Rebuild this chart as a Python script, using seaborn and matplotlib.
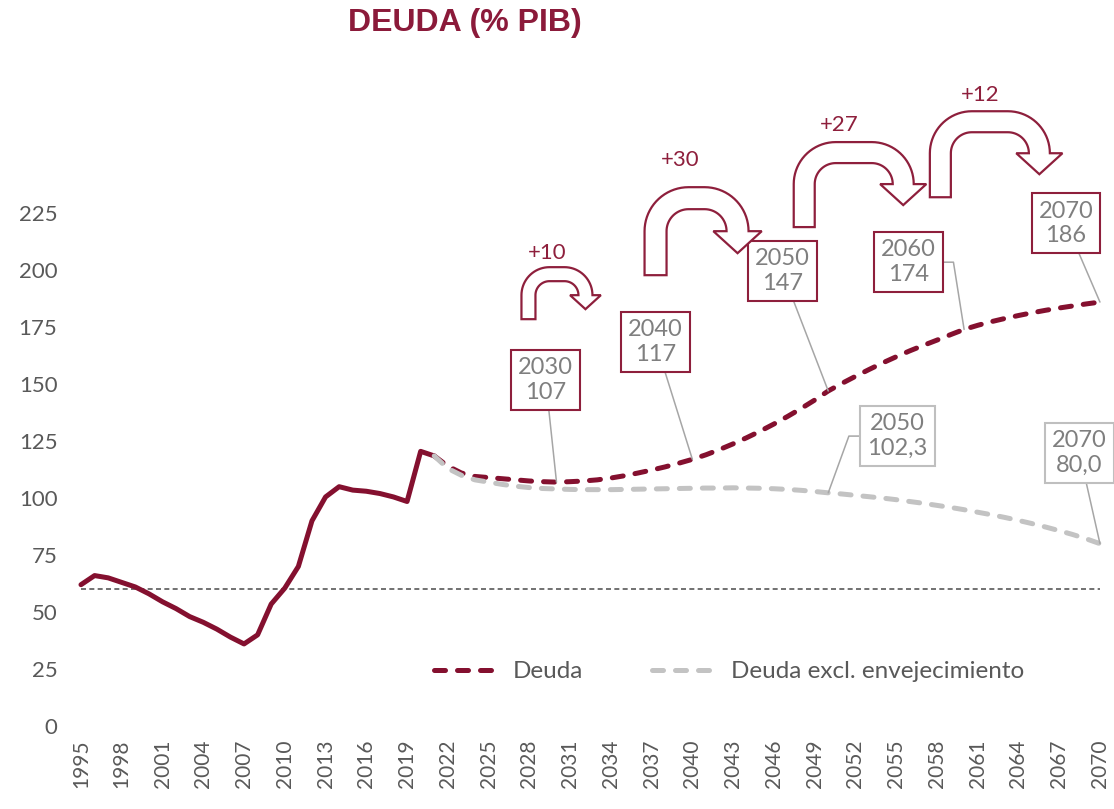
import numpy as np
import pandas as pd
import matplotlib
matplotlib.use('Agg')
import matplotlib.pyplot as plt
import matplotlib.transforms as mtransforms
from matplotlib.patches import Polygon
import seaborn as sns

# Deuda pública (% PIB), serie histórica
hist_years = list(range(1995, 2022))
hist_debt = [62, 66, 65, 63, 61, 58, 54.5, 51.5, 48, 45.5, 42.5, 39, 36, 40,
             53.5, 60.5, 70, 90, 100.5, 105, 103.5, 103, 102, 100.5, 98.5,
             120.5, 118.5]

# Proyecciones 2021-2070
proj_years = list(range(2021, 2071))
proj_debt = [118.5, 114, 111, 109.5, 109, 108.5, 108, 107.5, 107.2, 107,
             107.2, 107.5, 108, 108.8, 109.8, 111, 112.3, 113.7, 115.3, 117,
             119, 121.3, 123.8, 126.5, 129.4, 132.5, 135.8, 139.3, 143, 147,
             150.3, 153.4, 156.4, 159.3, 162, 164.6, 167, 169.3, 171.7, 174,
             175.8, 177.4, 178.8, 180.1, 181.3, 182.4, 183.4, 184.3, 185.2, 186]
proj_excl = [118.5, 113, 110, 108, 107, 106, 105.2, 104.6, 104.2, 104,
             103.8, 103.7, 103.7, 103.7, 103.8, 103.9, 104, 104.1, 104.2, 104.3,
             104.4, 104.4, 104.5, 104.4, 104.3, 104.1, 103.8, 103.4, 102.9, 102.3,
             101.8, 101.2, 100.6, 100, 99.3, 98.5, 97.7, 96.8, 95.9, 94.9,
             93.8, 92.7, 91.5, 90.2, 88.8, 87.3, 85.7, 84, 82.1, 80]

xtick_years = [1995, 1998, 2001, 2004, 2007, 2010, 2013, 2016, 2019, 2022,
               2025, 2028, 2031, 2034, 2037, 2040, 2043, 2046, 2049, 2052,
               2055, 2058, 2061, 2064, 2067, 2070]
yticks = [0, 25, 50, 75, 100, 125, 150, 175, 200, 225]
ref_level = 60

# cajas de etiquetas: (texto, año, valor del punto, x caja, y caja)
labels_red = [('2030\n107', 2030, 107, 2029.2, 151.8),
              ('2040\n117', 2040, 117, 2037.3, 168.4),
              ('2050\n147', 2050, 147, 2046.6, 199.6),
              ('2060\n174', 2060, 174, 2055.9, 203.5),
              ('2070\n186', 2070, 186, 2067.5, 220.6)]
labels_gray = [('2050\n102,3', 2050, 102.3, 2055.1, 127.2),
               ('2070\n80,0', 2070, 80.0, 2068.5, 119.7)]

# flechas de incremento: (texto, año base, valor base, ancho px, alto px, grosor px, x texto, y texto)
jumps = [('+10', 2027.42, 178.5, 71, 52, 14, 2029.3, 207.5),
         ('+30', 2036.48, 197.8, 104, 88, 22, 2039.1, 248.2),
         ('+27', 2047.46, 218.9, 120, 85, 21, 2050.8, 263.6),
         ('+12', 2057.48, 232.0, 120, 86, 21, 2061.2, 276.8)]

red = '#84102F'
box_red = '#8E1F3C'
gray_line = '#C3C3C3'
text_gray = '#7F7F7F'
tick_gray = '#595959'

sns.set_theme(style='white')
plt.rcParams['font.family'] = ['Lato', 'DejaVu Sans']

fig = plt.figure(figsize=(11.14, 8.09), dpi=100)
ax = fig.add_axes([0.0727, 0.1026, 0.9147, 0.817])

hist = pd.DataFrame({'year': hist_years, 'debt': hist_debt})
proj = pd.DataFrame({'year': proj_years, 'debt': proj_debt, 'excl': proj_excl})

ax.axhline(ref_level, color=tick_gray, lw=1.2, ls=(0, (3, 2)), zorder=1)

sns.lineplot(data=hist, x='year', y='debt', color=red, lw=3.6, ax=ax)
ax.lines[-1].set_clip_on(False)

sns.lineplot(data=proj, x='year', y='debt', color=red, lw=3.6, ax=ax)
l_red = ax.lines[-1]
l_red.set_dashes((2.2, 2.4))
l_red.set_dash_capstyle('round')
l_red.set_clip_on(False)

sns.lineplot(data=proj, x='year', y='excl', color=gray_line, lw=3.6, ax=ax)
l_gray = ax.lines[-1]
l_gray.set_dashes((2.2, 2.4))
l_gray.set_dash_capstyle('round')
l_gray.set_clip_on(False)


def uturn(ax, x, y, w, h, t, color):
    # flecha en U dibujada en pixeles, anclada en (x, y) de datos
    r = 2 * t
    hw = 1.1 * t
    xc = w - t / 2
    yc = h - r
    ri = r - t
    pts = [(0, 0)]
    a = np.linspace(np.pi, np.pi / 2, 20)
    pts += list(zip(r + r * np.cos(a), yc + r * np.sin(a)))
    a = np.linspace(np.pi / 2, 0, 20)
    pts += list(zip(w - r + r * np.cos(a), yc + r * np.sin(a)))
    pts += [(xc + hw, yc), (xc, yc - t), (xc - hw, yc)]
    a = np.linspace(0, np.pi / 2, 20)
    pts += list(zip(w - r + ri * np.cos(a), yc + ri * np.sin(a)))
    a = np.linspace(np.pi / 2, np.pi, 20)
    pts += list(zip(r + ri * np.cos(a), yc + ri * np.sin(a)))
    pts += [(t, 0)]
    trans = mtransforms.ScaledTranslation(x, y, ax.transData)
    ax.add_patch(Polygon(pts, closed=True, fc='white', ec=color, lw=1.6,
                         transform=trans, clip_on=False, zorder=5))


for txt, x0, y0, w, h, t, tx, ty in jumps:
    uturn(ax, x0, y0, w, h, t, box_red)
    ax.text(tx, ty, txt, ha='center', va='center', fontsize=16,
            color=box_red, clip_on=False)

conn = {2060: 'angle,angleA=0,angleB=99,rad=0'}
for txt, xp, yp, bx, by in labels_red:
    ax.annotate(txt, xy=(xp, yp), xytext=(bx, by), ha='center', va='center',
                fontsize=17, color=text_gray, annotation_clip=False,
                bbox=dict(boxstyle='square,pad=0.3', fc='white', ec=box_red, lw=1.5),
                arrowprops=dict(arrowstyle='-', color='#A6A6A6', lw=1.1,
                                shrinkA=0, shrinkB=0,
                                connectionstyle=conn.get(xp, 'arc3')),
                zorder=4)

conn_g = {2050: 'angle,angleA=0,angleB=70,rad=0'}
for txt, xp, yp, bx, by in labels_gray:
    ax.annotate(txt, xy=(xp, yp), xytext=(bx, by), ha='center', va='center',
                fontsize=17, color=text_gray, annotation_clip=False,
                bbox=dict(boxstyle='square,pad=0.3', fc='white', ec='#BFBFBF', lw=1.5),
                arrowprops=dict(arrowstyle='-', color='#A6A6A6', lw=1.1,
                                shrinkA=0, shrinkB=0,
                                connectionstyle=conn_g.get(xp, 'arc3')),
                zorder=4)

ax.set_xlim(1995, 2070)
ax.set_ylim(0, 290)
ax.set_xticks(xtick_years)
ax.set_xticklabels([str(y) for y in xtick_years], rotation=90)
ax.set_yticks(yticks)
ax.tick_params(axis='y', length=0, pad=17, labelsize=16, labelcolor=tick_gray)
ax.tick_params(axis='x', length=0, pad=10, labelsize=15, labelcolor=tick_gray)
ax.set_xlabel('')
ax.set_ylabel('')
sns.despine(ax=ax, left=True, bottom=True)

ax.legend(handles=[l_red, l_gray], labels=['Deuda', 'Deuda excl. envejecimiento'],
          loc='center', bbox_to_anchor=(0.636, 0.082), ncol=2, frameon=False,
          fontsize=17.5, handlelength=2.7, handletextpad=0.55, columnspacing=2.8,
          labelcolor=tick_gray)

fig.text(0.417, 0.972, 'DEUDA (% PIB)', ha='center', va='center', fontsize=23,
         fontweight='bold', color='#8B1A3A', family='Liberation Sans')

fig.savefig('out.png', dpi=100)
